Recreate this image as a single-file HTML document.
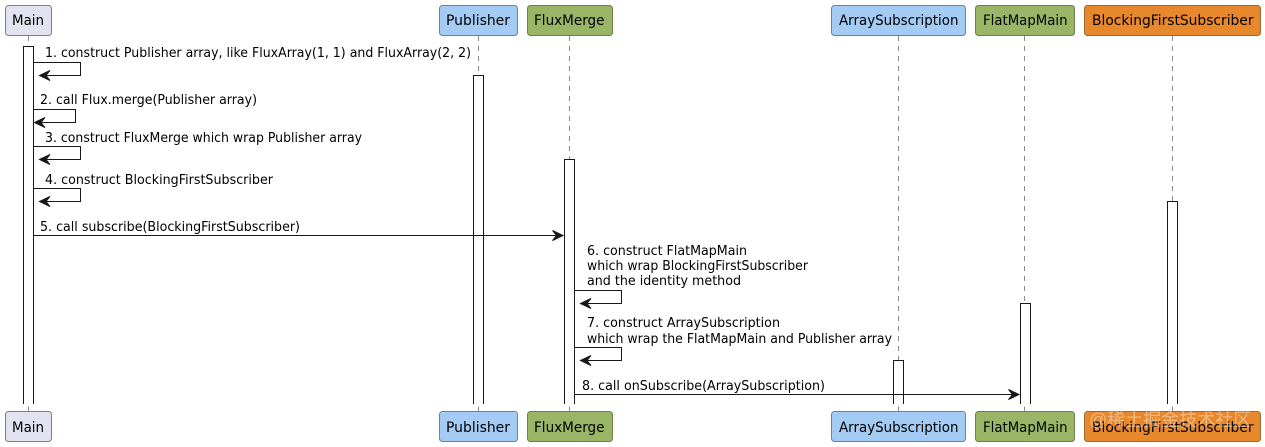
<!DOCTYPE html>
<html><head><meta charset="utf-8"><style>
html,body{margin:0;padding:0;background:#fff;width:1265px;height:447px;overflow:hidden}
svg{display:block}
text{font-family:"DejaVu Sans",sans-serif;fill:#000}
.p{font-size:14px}
.m{font-size:13px}
.ll{stroke:#8a8a8a;stroke-width:1;stroke-dasharray:5 5;fill:none}
.a{fill:#fff;stroke:none}
.c{fill:none;stroke:#181818;stroke-width:1}
.h{fill:#181818;stroke:#181818;stroke-width:1}
</style></head><body>
<svg width="1265" height="447" viewBox="0 0 1265 447" xmlns="http://www.w3.org/2000/svg">
<rect width="1265" height="447" fill="#fff"/>
<!-- lifelines -->
<path class="ll" d="M28.5 36V404M478.5 36V404M569.5 36V404M898.5 36V404M1024.5 36V404M1172.5 36V404"/>
<path class="ll" style="stroke-dasharray:none" d="M28.5 406.5V411M478.5 406.5V411M569.5 406.5V411M898.5 406.5V411M1024.5 406.5V411M1172.5 406.5V411"/>
<!-- activations -->
<rect class="a" x="23.5" y="46.5" width="10" height="358"/>
<rect class="a" x="473.5" y="75.5" width="10" height="329"/>
<rect class="a" x="564.5" y="159.5" width="10" height="245"/>
<rect class="a" x="893.5" y="360.5" width="10" height="44"/>
<rect class="a" x="1020.5" y="303.5" width="10" height="101"/>
<rect class="a" x="1167.5" y="201.5" width="10" height="203"/>
<path class="c" d="M23.5 404V46.5H33.5V404"/>
<path class="c" d="M473.5 404V75.5H483.5V404"/>
<path class="c" d="M564.5 404V159.5H574.5V404"/>
<path class="c" d="M893.5 404V360.5H903.5V404"/>
<path class="c" d="M1020.5 404V303.5H1030.5V404"/>
<path class="c" d="M1167.5 404V201.5H1177.5V404"/>
<!-- participants top -->
<g stroke-width="1">
<rect x="5.5" y="5.5" width="46" height="30" rx="3" fill="#E2E2F0" stroke="#7f7f86"/>
<rect x="439.5" y="5.5" width="78" height="30" rx="3" fill="#A4CBF3" stroke="#6d8298"/>
<rect x="527.5" y="5.5" width="85" height="30" rx="3" fill="#98B665" stroke="#6c7f50"/>
<rect x="831.5" y="5.5" width="134" height="30" rx="3" fill="#A4CBF3" stroke="#6d8298"/>
<rect x="975.5" y="5.5" width="99" height="30" rx="3" fill="#98B665" stroke="#6c7f50"/>
<rect x="1084.5" y="5.5" width="176" height="30" rx="3" fill="#E8882C" stroke="#9a6a38"/>
<!-- participants bottom -->
<rect x="5.5" y="411.5" width="46" height="30" rx="3" fill="#E2E2F0" stroke="#7f7f86"/>
<rect x="439.5" y="411.5" width="78" height="30" rx="3" fill="#A4CBF3" stroke="#6d8298"/>
<rect x="527.5" y="411.5" width="85" height="30" rx="3" fill="#98B665" stroke="#6c7f50"/>
<rect x="831.5" y="411.5" width="134" height="30" rx="3" fill="#A4CBF3" stroke="#6d8298"/>
<rect x="975.5" y="411.5" width="99" height="30" rx="3" fill="#98B665" stroke="#6c7f50"/>
<rect x="1084.5" y="411.5" width="176" height="30" rx="3" fill="#E8882C" stroke="#9a6a38"/>
</g>
<text class="p" x="12" y="25" textLength="32" lengthAdjust="spacingAndGlyphs">Main</text>
<text class="p" x="446" y="25" textLength="64" lengthAdjust="spacingAndGlyphs">Publisher</text>
<text class="p" x="534" y="25" textLength="70.5" lengthAdjust="spacingAndGlyphs">FluxMerge</text>
<text class="p" x="839" y="25" textLength="119.5" lengthAdjust="spacingAndGlyphs">ArraySubscription</text>
<text class="p" x="983" y="25" textLength="84.5" lengthAdjust="spacingAndGlyphs">FlatMapMain</text>
<text class="p" x="1092" y="25" textLength="161.5" lengthAdjust="spacingAndGlyphs">BlockingFirstSubscriber</text>
<text class="p" x="12" y="432" textLength="32" lengthAdjust="spacingAndGlyphs">Main</text>
<text class="p" x="446" y="432" textLength="64" lengthAdjust="spacingAndGlyphs">Publisher</text>
<text class="p" x="534" y="432" textLength="70.5" lengthAdjust="spacingAndGlyphs">FluxMerge</text>
<text class="p" x="839" y="432" textLength="119.5" lengthAdjust="spacingAndGlyphs">ArraySubscription</text>
<text class="p" x="983" y="432" textLength="84.5" lengthAdjust="spacingAndGlyphs">FlatMapMain</text>
<text class="p" x="1092" y="432" textLength="161.5" lengthAdjust="spacingAndGlyphs">BlockingFirstSubscriber</text>
<!-- messages -->
<path class="c" d="M33.5 62.5H80.5V75.5H41"/>
<path class="h" d="M50 70.5L39.5 75.5L50 80.5L46 75.5Z"/>
<path class="c" d="M33.5 109.5H75.5V122.5H36"/>
<path class="h" d="M45 117.5L34.5 122.5L45 127.5L41 122.5Z"/>
<path class="c" d="M33.5 146.5H80.5V159.5H41"/>
<path class="h" d="M50 154.5L39.5 159.5L50 164.5L46 159.5Z"/>
<path class="c" d="M33.5 188.5H80.5V201.5H41"/>
<path class="h" d="M50 196.5L39.5 201.5L50 206.5L46 201.5Z"/>
<path class="c" d="M33.5 235.5H562"/>
<path class="h" d="M552.5 230.5L563 235.5L552.5 240.5L556.5 235.5Z"/>
<path class="c" d="M574.5 290.5H621.5V303.5H582"/>
<path class="h" d="M591 298.5L580.5 303.5L591 308.5L587 303.5Z"/>
<path class="c" d="M574.5 347.5H621.5V360.5H582"/>
<path class="h" d="M591 355.5L580.5 360.5L591 365.5L587 360.5Z"/>
<path class="c" d="M574.5 394.5H1018"/>
<path class="h" d="M1008.5 389.5L1019 394.5L1008.5 399.5L1012.5 394.5Z"/>
<text class="m" x="45" y="57" textLength="426" lengthAdjust="spacingAndGlyphs">1. construct Publisher array, like FluxArray(1, 1) and FluxArray(2, 2)</text>
<text class="m" x="40" y="104" textLength="217" lengthAdjust="spacingAndGlyphs">2. call Flux.merge(Publisher array)</text>
<text class="m" x="45" y="142" textLength="317" lengthAdjust="spacingAndGlyphs">3. construct FluxMerge which wrap Publisher array</text>
<text class="m" x="45" y="184" textLength="228" lengthAdjust="spacingAndGlyphs">4. construct BlockingFirstSubscriber</text>
<text class="m" x="40" y="231" textLength="260" lengthAdjust="spacingAndGlyphs">5. call subscribe(BlockingFirstSubscriber)</text>
<text class="m" x="587" y="255" textLength="160" lengthAdjust="spacingAndGlyphs">6. construct FlatMapMain</text>
<text class="m" x="587" y="270" textLength="221" lengthAdjust="spacingAndGlyphs">which wrap BlockingFirstSubscriber</text>
<text class="m" x="587" y="285" textLength="154" lengthAdjust="spacingAndGlyphs">and the identity method</text>
<text class="m" x="587" y="327" textLength="193" lengthAdjust="spacingAndGlyphs">7. construct ArraySubscription</text>
<text class="m" x="587" y="343" textLength="305" lengthAdjust="spacingAndGlyphs">which wrap the FlatMapMain and Publisher array</text>
<text class="m" x="582" y="390" textLength="243" lengthAdjust="spacingAndGlyphs">8. call onSubscribe(ArraySubscription)</text>
<!-- watermark -->
<text x="1089" y="426" style="font-family:'Liberation Sans','Noto Sans CJK SC',sans-serif;font-size:18px;fill:#fff;fill-opacity:.4">@稀土掘金技术社区</text>
</svg>
</body></html>
